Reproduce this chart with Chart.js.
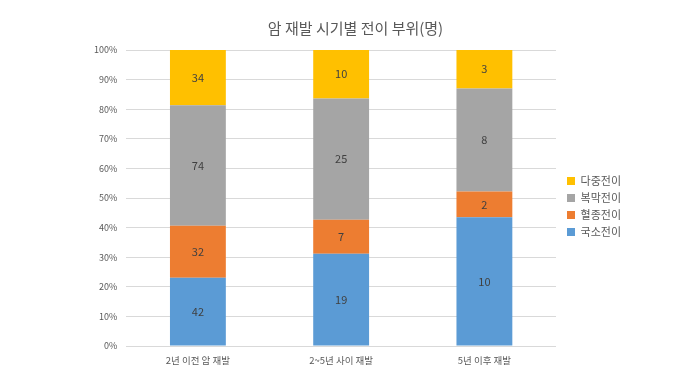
<!DOCTYPE html>
<html><head><meta charset="utf-8">
<script src="https://cdn.jsdelivr.net/npm/chart.js@4"></script>
<style>html,body{margin:0;padding:0;background:#fff}#wrap{width:680px;height:383px}</style>
</head><body><div id="wrap"><canvas id="c" width="680" height="383"></canvas></div>
<script>
const categories = ['2년 이전 암 재발', '2~5년 사이 재발', '5년 이후 재발'];
const local = [42, 19, 10];      // 국소전이
const hematoma = [32, 7, 2];     // 혈종전이
const peritoneal = [74, 25, 8];  // 복막전이
const multiple = [34, 10, 3];    // 다중전이
const seriesNames = ['국소전이', '혈종전이', '복막전이', '다중전이'];
const yTicks = [0,10,20,30,40,50,60,70,80,90,100];

const raw = [local, hematoma, peritoneal, multiple];
const totals = categories.map((_, i) => raw.reduce((s, a) => s + a[i], 0));
const colors = ['#5B9BD5', '#ED7D31', '#A5A5A5', '#FFC000'];
const FONT = "'Noto Sans CJK KR', 'Noto Sans', sans-serif";

const labelPlugin = {
  id: 'barLabels',
  afterDatasetsDraw(chart) {
    const ctx = chart.ctx;
    ctx.save();
    ctx.font = '11px ' + FONT;
    ctx.fillStyle = '#404040';
    ctx.textAlign = 'center';
    ctx.textBaseline = 'middle';
    chart.data.datasets.forEach((ds, di) => {
      const meta = chart.getDatasetMeta(di);
      meta.data.forEach((el, i) => {
        const p = el.getProps(['x', 'y', 'base'], true);
        ctx.fillText(String(ds.raw[i]), p.x, (p.y + p.base) / 2);
      });
    });
    ctx.restore();
  }
};

const legendShift = {
  id: 'legendShift',
  afterLayout(chart) {
    const lg = chart.legend;
    if (!lg) return;
    lg.left += 5; lg.right += 5;
    lg.top += 12; lg.bottom += 12;
  }
};

new Chart(document.getElementById('c'), {
  type: 'bar',
  data: {
    labels: categories,
    datasets: raw.map((arr, k) => ({
      label: seriesNames[k],
      raw: arr,
      data: arr.map((v, i) => v / totals[i] * 100),
      backgroundColor: colors[k],
      borderWidth: 0,
      categoryPercentage: 1,
      barPercentage: 0.39
    }))
  },
  options: {
    responsive: false,
    animation: false,
    layout: { padding: { left: 85, right: 54, top: 6, bottom: 0 } },
    plugins: {
      title: { display: true, text: '암 재발 시기별 전이 부위(명)', color: '#595959',
        font: { family: FONT, size: 15, weight: 'normal' }, padding: { top: 13, bottom: 13 } },
      legend: { position: 'right', reverse: true,
        labels: { boxWidth: 8, boxHeight: 8, padding: 6, color: '#595959',
          font: { family: FONT, size: 11 } } },
      tooltip: { enabled: false }
    },
    scales: {
      x: { stacked: true, grid: { display: false, drawTicks: false }, border: { display: false },
        afterFit(scale) { scale.height = 37; },
        ticks: { color: '#595959', font: { family: FONT, size: 9.5 }, padding: 9 } },
      y: { stacked: true, min: 0, max: 100,
        afterBuildTicks(ax) { ax.ticks = yTicks.map(v => ({ value: v })); },
        grid: { color: '#D9D9D9', drawTicks: false }, border: { display: false },
        ticks: { color: '#595959', font: { family: FONT, size: 9 }, padding: 9,
          callback: v => v + '%' } }
    }
  },
  plugins: [labelPlugin, legendShift]
});
</script></body></html>
